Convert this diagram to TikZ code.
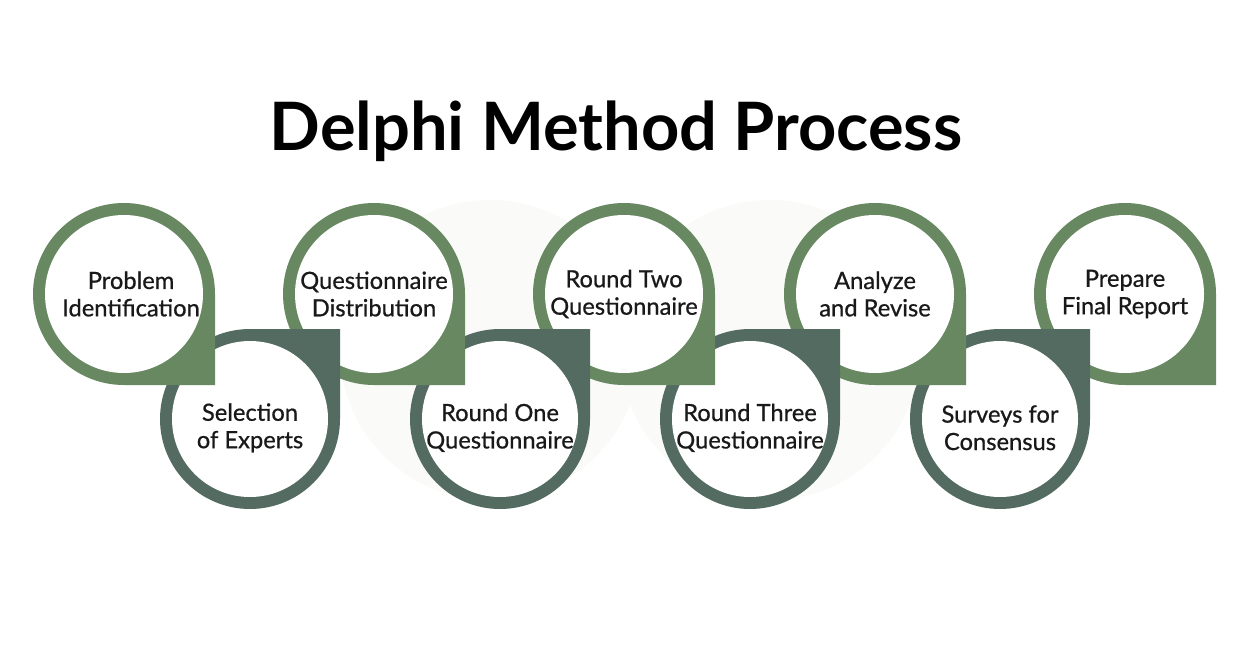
\documentclass[tikz,border=0pt]{standalone}
\usepackage{fontspec}
\setmainfont{Lato}
\newfontfamily\lblfont{Lato}[FakeBold=0.7]
\definecolor{topgreen}{HTML}{688862}
\definecolor{lowgreen}{HTML}{546B62}
\definecolor{faintgreen}{HTML}{FAFBF8}
\tikzset{
	lbl/.style={align=center, font=\lblfont\fontsize{13.5}{15.6}\selectfont, text=black!90},
	hole/.style={fill=white},
}
\begin{document}
\begin{tikzpicture}[x=0.02cm,y=0.02cm]
		\useasboundingbox[fill=white] (0,0) rectangle (1250,650);
		\fill[faintgreen] (490,300) circle (150) (770,300) circle (150);
		\node[font=\fontsize{38}{42}\selectfont\bfseries, anchor=base] (title) at (616,500) {Delphi Method Process};
		\coordinate (c-1) at (124,356); \coordinate (c-3) at (374,356); \coordinate (c-5) at (624,356);
		\coordinate (c-7) at (875,356); \coordinate (c-9) at (1125,356);
		\coordinate (c-2) at (250,231); \coordinate (c-4) at (500,231); \coordinate (c-6) at (750,231);
		\coordinate (c-8) at (1000,231);
		% drawn from the last step back, each one lies over the next
		\fill[topgreen] (c-9) ++(91,0) arc[start angle=0,end angle=270,radius=91] -- ++(91,0) -- cycle;
		\fill[hole] (c-9) circle (79);
		\fill[lowgreen] (c-8) ++(0,90) arc[start angle=90,end angle=360,radius=90] -- ++(0,90) -- cycle;
		\fill[hole] (c-8) circle (78);
		\fill[topgreen] (c-7) ++(91,0) arc[start angle=0,end angle=270,radius=91] -- ++(91,0) -- cycle;
		\fill[hole] (c-7) circle (79);
		\fill[lowgreen] (c-6) ++(0,90) arc[start angle=90,end angle=360,radius=90] -- ++(0,90) -- cycle;
		\fill[hole] (c-6) circle (78);
		\fill[topgreen] (c-5) ++(91,0) arc[start angle=0,end angle=270,radius=91] -- ++(91,0) -- cycle;
		\fill[hole] (c-5) circle (79);
		\fill[lowgreen] (c-4) ++(0,90) arc[start angle=90,end angle=360,radius=90] -- ++(0,90) -- cycle;
		\fill[hole] (c-4) circle (78);
		\fill[topgreen] (c-3) ++(91,0) arc[start angle=0,end angle=270,radius=91] -- ++(91,0) -- cycle;
		\fill[hole] (c-3) circle (79);
		\fill[lowgreen] (c-2) ++(0,90) arc[start angle=90,end angle=360,radius=90] -- ++(0,90) -- cycle;
		\fill[hole] (c-2) circle (78);
		\fill[topgreen] (c-1) ++(91,0) arc[start angle=0,end angle=270,radius=91] -- ++(91,0) -- cycle;
		\fill[hole] (c-1) circle (79);
		% texts
		\node[lbl] (problem) at ([xshift=4]c-1) {Problem\\Identification};
		\node[lbl] (experts) at ([yshift=-5]c-2) {Selection\\of Experts};
		\node[lbl] (distribution) at (c-3) {Questionnaire\\Distribution};
		\node[lbl] (roundone) at ([yshift=-5]c-4) {Round One\\Questionnaire};
		\node[lbl] (roundtwo) at (c-5) {Round Two\\Questionnaire};
		\node[lbl] (roundthree) at ([yshift=-5]c-6) {Round Three\\Questionnaire};
		\node[lbl] (analyze) at (c-7) {Analyze\\and Revise};
		\node[lbl] (surveys) at ([yshift=-5]c-8) {Surveys for\\Consensus};
		\node[lbl] (report) at (c-9) {Prepare\\Final Report};
	\end{tikzpicture}
\end{document}
